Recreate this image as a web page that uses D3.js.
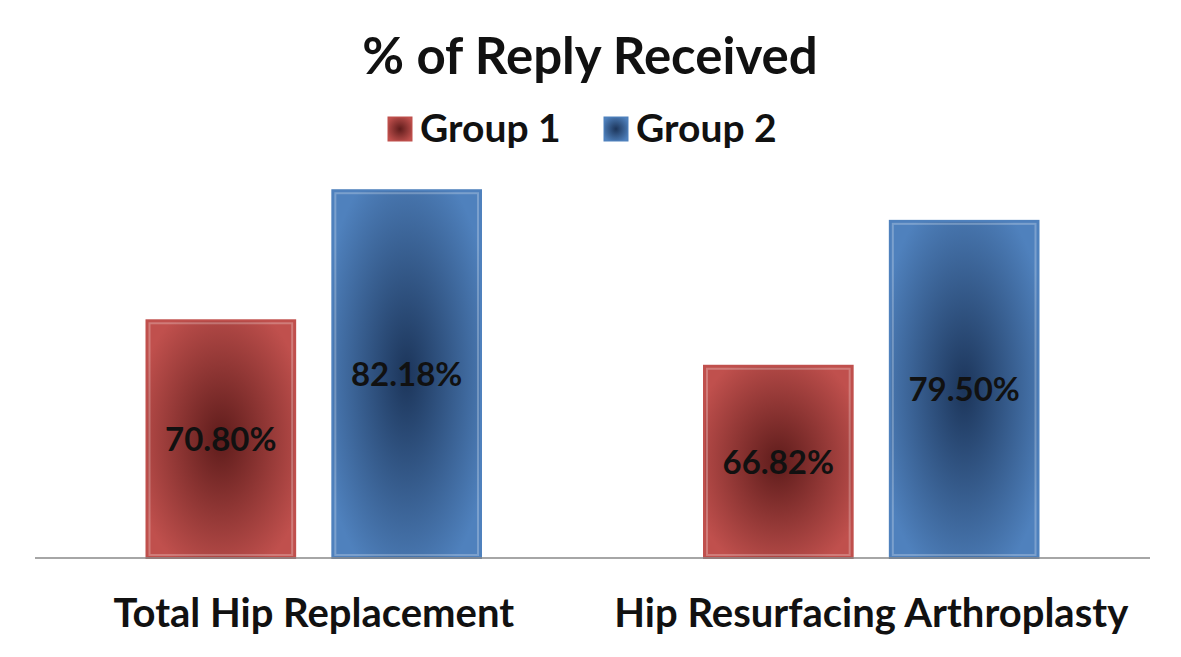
<!DOCTYPE html>
<html><head><meta charset="utf-8">
<script src="https://cdn.jsdelivr.net/npm/d3@7"></script>
<style>body{margin:0;background:#fff}text{font-family:Lato,"Open Sans",sans-serif;font-weight:bold}</style>
</head><body><svg id="c" width="1181" height="657"></svg>
<script>
const categories=["Total Hip Replacement","Hip Resurfacing Arthroplasty"];
const seriesNames=["Group 1","Group 2"];
const group1=[70.80,66.82];
const group2=[82.18,79.50];
const labels1=["70.80%","66.82%"];
const labels2=["82.18%","79.50%"];
const colors={edge:["#c0504d","#4f81bd"],center:["#5e1c1b","#1c355a"]};

const svg=d3.select("#c");
const defs=svg.append("defs");
[0,1].forEach(i=>{
  const g=defs.append("radialGradient").attr("id","g"+i).attr("cx","50%").attr("cy","50%").attr("r","60%");
  g.append("stop").attr("offset","0%").attr("stop-color",colors.center[i]);
  g.append("stop").attr("offset","100%").attr("stop-color",colors.edge[i]);
});
const y=d3.scaleLinear().domain([50,85]).range([558,158]);
const x0=d3.scaleBand().domain(categories).range([35,1150]);
const x1=d3.scaleBand().domain(seriesNames).range([0,x0.bandwidth()]).paddingInner(0.2).paddingOuter(0.6);
const data=[group1,group2];
const labs=[labels1,labels2];
seriesNames.forEach((s,si)=>{
  categories.forEach((c,ci)=>{
    const v=data[si][ci];
    const bx=x0(c)+x1(s), bw=x1.bandwidth(), by=y(v), bh=y.range()[0]-y(v);
    svg.append("rect").attr("x",bx).attr("y",by).attr("width",bw).attr("height",bh)
      .attr("fill",`url(#g${si})`).attr("stroke",colors.edge[si]).attr("stroke-width",2);
    svg.append("rect").attr("x",bx+3).attr("y",by+3).attr("width",bw-6).attr("height",bh-6)
      .attr("fill","none").attr("stroke","rgba(255,255,255,0.25)").attr("stroke-width",2);
    svg.append("text").attr("x",bx+bw/2).attr("y",by+bh/2+12).attr("text-anchor","middle")
      .attr("font-size",33).attr("fill","#111").text(labs[si][ci]);
  });
});
svg.append("line").attr("x1",35).attr("x2",1150).attr("y1",558).attr("y2",558).attr("stroke","#888").attr("stroke-width",1.5);
categories.forEach(c=>{
  svg.append("text").attr("x",x0(c)+x0.bandwidth()/2).attr("y",627).attr("text-anchor","middle")
    .attr("font-size",40).attr("fill","#111").text(c);
});
svg.append("text").attr("x",590).attr("y",74).attr("text-anchor","middle").attr("font-size",51).attr("fill","#111").text("% of Reply Received");
const lx=[388,604];
seriesNames.forEach((s,i)=>{
  svg.append("rect").attr("x",lx[i]).attr("y",117).attr("width",24).attr("height",24).attr("fill",`url(#g${i})`).attr("stroke",colors.edge[i]);
  svg.append("text").attr("x",lx[i]+32).attr("y",142).attr("font-size",39).attr("fill","#111").text(s);
});
</script></body></html>
